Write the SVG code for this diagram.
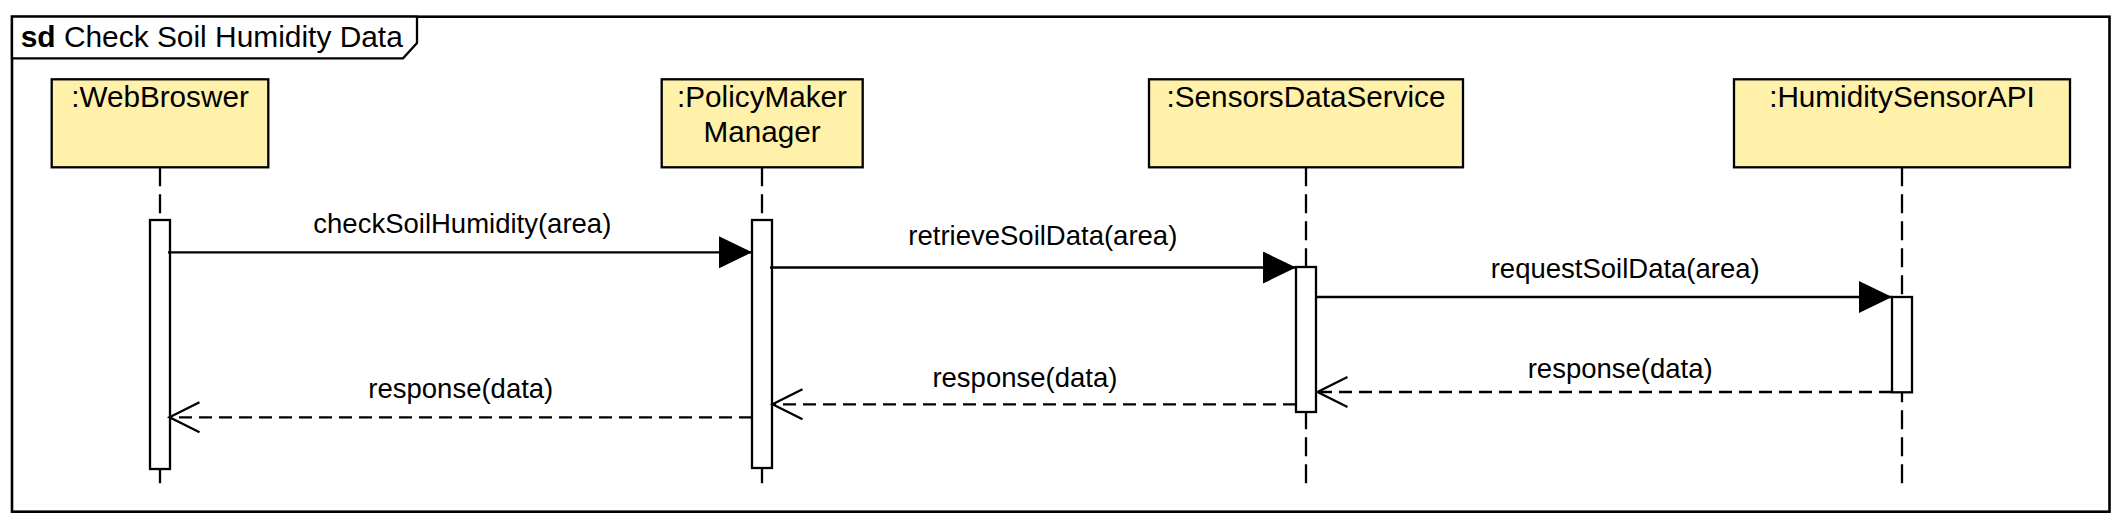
<svg xmlns="http://www.w3.org/2000/svg" width="2122" height="522" viewBox="0 0 2122 522">
<style>
  .frame{fill:none;stroke:#000;stroke-width:2.6}
  .tab{fill:#fff;stroke:#000;stroke-width:2.3}
  .head{fill:#FFF0AA;stroke:#000;stroke-width:2.3}
  .life{stroke:#000;stroke-width:2.3;stroke-dasharray:19 8;fill:none}
  .act{fill:#fff;stroke:#000;stroke-width:2.3}
  .msg{stroke:#000;stroke-width:2.3;fill:none}
  .ret{stroke:#000;stroke-width:2.3;fill:none;stroke-dasharray:13 7}
  .t{font-family:"Liberation Sans",Arial,Helvetica,sans-serif;fill:#000}
  .name{font-size:29.7px;text-anchor:middle}
  .lbl{font-size:27.5px}
  .title{font-size:29.9px}
</style>
<defs>
  <marker id="filled" markerUnits="userSpaceOnUse" viewBox="0 0 33 32" refX="33" refY="16" markerWidth="33" markerHeight="32" orient="auto">
    <path d="M0,0 L33,16 L0,32 Z" fill="#000" stroke="none"/>
  </marker>
  <marker id="open" markerUnits="userSpaceOnUse" viewBox="-3 -3 36 36" refX="30" refY="15" markerWidth="36" markerHeight="36" orient="auto" overflow="visible">
    <path d="M0,0 L30,15 L0,30" fill="none" stroke="#000" stroke-width="2.3" stroke-dasharray="none"/>
  </marker>
</defs>

<g id="frame">
  <rect class="frame" x="12" y="16.7" width="2097.5" height="495"/>
  <path class="tab" d="M12,16.7 H417 V43 L403,58.3 H12 Z"/>
  <text class="t title" x="20.7" y="46.7"><tspan font-weight="bold">sd</tspan> Check Soil Humidity Data</text>
</g>

<g id="lifeline-webbroswer">
  <rect class="head" x="51.7" y="79.3" width="216.6" height="88"/>
  <line class="life" x1="160" y1="167.3" x2="160" y2="484"/>
  <rect class="act" x="150" y="220" width="20" height="249"/>
  <text class="t name" x="160" y="106.7">:WebBroswer</text>
</g>

<g id="lifeline-policymakermanager">
  <rect class="head" x="661.7" y="79.3" width="201" height="88"/>
  <line class="life" x1="762" y1="167.3" x2="762" y2="484"/>
  <rect class="act" x="752" y="220" width="20" height="248"/>
  <text class="t name" x="762" y="106.7">:PolicyMaker</text>
  <text class="t name" x="762" y="141.7">Manager</text>
</g>

<g id="lifeline-sensorsdataservice">
  <rect class="head" x="1149" y="79.3" width="314" height="88"/>
  <line class="life" x1="1306" y1="167.3" x2="1306" y2="484"/>
  <rect class="act" x="1296" y="267" width="20" height="145"/>
  <text class="t name" x="1306" y="106.7">:SensorsDataService</text>
</g>

<g id="lifeline-humiditysensorapi">
  <rect class="head" x="1734" y="79.3" width="336" height="88"/>
  <line class="life" x1="1902" y1="167.3" x2="1902" y2="484"/>
  <rect class="act" x="1892" y="297" width="20" height="95.3"/>
  <text class="t name" x="1902" y="106.7">:HumiditySensorAPI</text>
</g>

<g id="connectors">
  <line class="msg" x1="168" y1="252.3" x2="752" y2="252.3" marker-end="url(#filled)"/>
  <text class="t lbl" x="313.3" y="233.3">checkSoilHumidity(area)</text>

  <line class="msg" x1="770" y1="267.5" x2="1296" y2="267.5" marker-end="url(#filled)"/>
  <text class="t lbl" x="908.3" y="245">retrieveSoilData(area)</text>

  <line class="msg" x1="1316" y1="297" x2="1892" y2="297" marker-end="url(#filled)"/>
  <text class="t lbl" x="1490.7" y="278.3">requestSoilData(area)</text>

  <line class="ret" x1="1892" y1="392" x2="1317.5" y2="392" marker-end="url(#open)"/>
  <text class="t lbl" x="1527.7" y="378.3">response(data)</text>

  <line class="ret" x1="1296" y1="404.3" x2="772.5" y2="404.3" marker-end="url(#open)"/>
  <text class="t lbl" x="932.4" y="386.7">response(data)</text>

  <line class="ret" x1="752" y1="417.3" x2="169.5" y2="417.3" marker-end="url(#open)"/>
  <text class="t lbl" x="368.3" y="398.3">response(data)</text>
</g>
</svg>
